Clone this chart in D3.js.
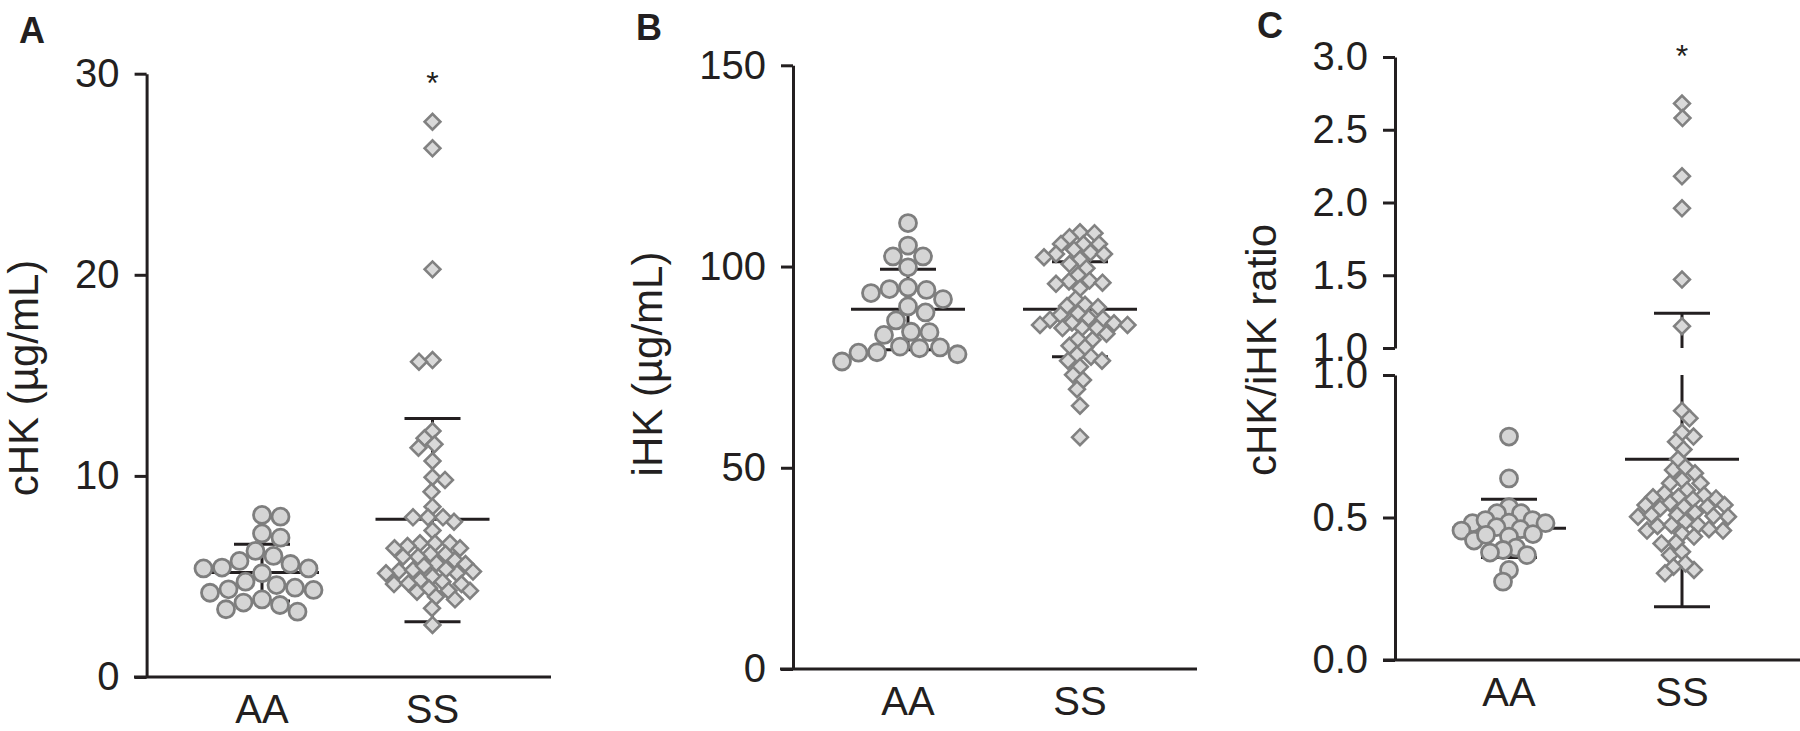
<!DOCTYPE html>
<html><head><meta charset="utf-8">
<script src="https://cdn.jsdelivr.net/npm/d3@7"></script>
<style>
body{margin:0;background:#fff}
svg{display:block}
text{font-family:"Liberation Sans",Arial,Helvetica,sans-serif;fill:#231f20}
</style>
</head><body>
<svg id="chart" width="1800" height="731"></svg>
<script>
// ---------------- data ----------------
const groups = ["AA", "SS"];

const cHK_AA = [7.97, 8.06, 6.93, 7.14, 6.27, 6.02, 5.77, 5.62, 5.40, 5.44, 5.16, 5.40, 4.74, 4.44, 4.36, 4.57, 4.33, 4.19, 3.86, 3.70, 3.58, 3.37, 3.25];
const cHK_SS = [27.61, 26.29, 20.27, 15.76, 15.68, 12.23, 11.87, 11.57, 11.40, 10.74, 9.93, 9.80, 9.21, 8.47, 7.72, 7.94, 7.94, 7.94, 7.28, 6.65, 6.65, 6.65, 6.51, 6.40, 6.40, 6.12, 5.82, 6.12, 5.98, 5.98, 5.62, 5.65, 5.24, 5.16, 5.27, 5.32, 5.52, 5.36, 5.16, 4.82, 4.99, 4.62, 4.62, 4.74, 4.66, 4.29, 4.24, 4.41, 4.29, 3.86, 3.99, 3.42, 2.59];
const cHK_mean = [5.2, 7.84];
const cHK_sdLow = [3.78, 2.75];
const cHK_sdHigh = [6.60, 12.86];
const cHK_ticks = [0, 10, 20, 30];

const iHK_AA = [110.8, 105.2, 102.5, 102.5, 99.8, 94.2, 94.4, 94.8, 93.4, 91.9, 90.1, 88.6, 86.6, 83.8, 83.7, 83.0, 78.6, 80.1, 78.7, 79.9, 79.7, 78.2, 76.4];
const iHK_SS = [108.5, 108.3, 107.3, 105.6, 105.6, 105.6, 104.2, 103.5, 103.1, 103.1, 102.3, 101.8, 100.6, 99.6, 97.9, 96.3, 95.7, 96.5, 96.0, 94.6, 91.9, 90.5, 90.2, 89.9, 87.2, 87.0, 84.8, 84.7, 85.9, 86.8, 85.5, 86.1, 88.0, 88.4, 85.5, 84.7, 83.3, 81.8, 80.3, 82.0, 79.9, 77.6, 78.1, 75.1, 76.6, 76.6, 73.1, 71.8, 69.5, 65.4, 57.6];
const iHK_mean = [89.4, 89.4];
const iHK_sdLow = [79.3, 77.6];
const iHK_sdHigh = [99.35, 101.2];
const iHK_ticks = [0, 50, 100, 150];

const ratio_AA = [0.784, 0.637, 0.536, 0.515, 0.515, 0.491, 0.480, 0.480, 0.482, 0.491, 0.466, 0.459, 0.454, 0.442, 0.433, 0.419, 0.394, 0.386, 0.368, 0.377, 0.316, 0.275, 0.439];
const ratio_SS = [2.68, 2.58, 2.18, 1.96, 1.47, 1.15, 0.875, 0.848, 0.784, 0.798, 0.766, 0.739, 0.704, 0.667, 0.676, 0.655, 0.632, 0.620, 0.596, 0.620, 0.573, 0.585, 0.567, 0.579, 0.571, 0.564, 0.550, 0.532, 0.538, 0.544, 0.538, 0.544, 0.503, 0.517, 0.509, 0.503, 0.509, 0.485, 0.505, 0.454, 0.470, 0.474, 0.454, 0.474, 0.444, 0.459, 0.412, 0.433, 0.409, 0.368, 0.380, 0.316, 0.339, 0.327, 0.304];
const ratio_mean = [0.462, 0.704];
const ratio_sdLow = [0.360, 0.187];
const ratio_sdHigh = [0.564, 1.238];
const ratio_ticksLow = [0, 0.5, 1.0];
const ratio_ticksHigh = [1.0, 1.5, 2.0, 2.5, 3.0];

const panelLetters = ["A", "B", "C"];
const yTitles = ["cHK (\u00b5g/mL)", "iHK (\u00b5g/mL)", "cHK/iHK ratio"];
const signif = [["", "*"], ["", ""], ["", "*"]];

// ---------------- style ----------------
const INK = "#231f20";
const CIRC_FILL = "#d5d5d5", CIRC_STROKE = "#7e7e7e";
const DIA_FILL = "#d9d9d9", DIA_STROKE = "#818181";
const R = 8.5, DIA_SIZE = 125;

const svg = d3.select("#chart");

function swarm(values, yfn, cx, shape, gap) {
  const pts = values.map((v, i) => ({v, i, y: yfn(v), dx: 0}));
  const order = pts.slice().sort((a, b) => a.y - b.y);
  const placed = [];
  const hit = (dx, y, q) => {
    const ax = Math.abs(dx - q.dx), ay = Math.abs(y - q.y);
    if (shape === "circle") return ax * ax + ay * ay < gap * gap;
    return ax + ay < gap;
  };
  order.forEach((p, k) => {
    for (let s = 0; s < 300; s += 0.5) {
      const cands = s === 0 ? [0] : (k % 2 ? [s, -s] : [-s, s]);
      let ok = null;
      for (const dx of cands) {
        if (placed.every(q => !hit(dx, p.y, q))) { ok = dx; break; }
      }
      if (ok !== null) { p.dx = ok; break; }
    }
    placed.push(p);
  });
  pts.forEach(p => p.x = cx + p.dx);
  return pts;
}

function drawPoints(g, pts, shape) {
  if (shape === "circle") {
    g.selectAll(null).data(pts).join("circle")
      .attr("cx", d => d.x).attr("cy", d => d.y).attr("r", R)
      .attr("fill", CIRC_FILL).attr("stroke", CIRC_STROKE).attr("stroke-width", 2.8);
  } else {
    const p = d3.symbol().type(d3.symbolSquare).size(DIA_SIZE)();
    g.selectAll(null).data(pts).join("path")
      .attr("d", p)
      .attr("transform", d => `translate(${d.x},${d.y}) rotate(45)`)
      .attr("fill", DIA_FILL).attr("stroke", DIA_STROKE).attr("stroke-width", 2.6);
  }
}

function hline(g, x1, x2, y) {
  g.append("line").attr("x1", x1).attr("x2", x2).attr("y1", y).attr("y2", y)
    .attr("stroke", INK).attr("stroke-width", 3);
}
function vline(g, x, y1, y2) {
  g.append("line").attr("x1", x).attr("x2", x).attr("y1", y1).attr("y2", y2)
    .attr("stroke", INK).attr("stroke-width", 3);
}

function styleAxis(ax) {
  ax.selectAll("path.domain").attr("stroke", INK).attr("stroke-width", 3);
  ax.selectAll(".tick line").attr("stroke", INK).attr("stroke-width", 3);
  ax.selectAll(".tick text").attr("font-size", 40).attr("fill", INK)
    .style("font-family", '"Liberation Sans", Arial, sans-serif');
}

const layout = [
  {axisX: 146.6, xEnd: 551, cols: [262, 432.5], letter: [19, 43], title: [38, 378], x0: 134, gapC: 18.5, gapD: 15},
  {axisX: 793, xEnd: 1197, cols: [908, 1080], letter: [636, 40], title: [662, 364], x0: 780, gapC: 18.5, gapD: 15},
  {axisX: 1395, xEnd: 1800, cols: [1509, 1682], letter: [1257, 38], title: [1276, 350], x0: 1383, gapC: 13, gapD: 15}
];

const panelData = [
  {AA: cHK_AA, SS: cHK_SS, mean: cHK_mean, lo: cHK_sdLow, hi: cHK_sdHigh},
  {AA: iHK_AA, SS: iHK_SS, mean: iHK_mean, lo: iHK_sdLow, hi: iHK_sdHigh},
  {AA: ratio_AA, SS: ratio_SS, mean: ratio_mean, lo: ratio_sdLow, hi: ratio_sdHigh}
];

const yA = d3.scaleLinear().domain([0, 30]).range([677, 73.7]);
const yB = d3.scaleLinear().domain([0, 150]).range([669, 65.3]);
const yCLow = d3.scaleLinear().domain([0, 1]).range([660, 375]);
const yCHigh = d3.scaleLinear().domain([1, 3]).range([348, 57]);
const yC = v => v <= 1 ? yCLow(v) : yCHigh(v);
const yFns = [yA, yB, yC];
const baseY = [677, 669, 660];

panelData.forEach((pd, pi) => {
  const L = layout[pi];
  const g = svg.append("g");
  const yf = yFns[pi];
  const x = d3.scalePoint().domain(groups).range(L.cols);

  if (pi < 2) {
    const ax = g.append("g").attr("transform", `translate(${L.axisX},0)`)
      .call(d3.axisLeft(yf).tickValues(pi === 0 ? cHK_ticks : iHK_ticks)
        .tickSize(12).tickSizeOuter(0).tickPadding(15).tickFormat(d3.format("d")));
    styleAxis(ax);
  } else {
    const axL = g.append("g").attr("transform", `translate(${L.axisX},0)`)
      .call(d3.axisLeft(yCLow).tickValues(ratio_ticksLow).tickSize(12).tickSizeOuter(0)
        .tickPadding(15).tickFormat(d3.format(".1f")));
    styleAxis(axL);
    const axH = g.append("g").attr("transform", `translate(${L.axisX},0)`)
      .call(d3.axisLeft(yCHigh).tickValues(ratio_ticksHigh).tickSize(12).tickSizeOuter(0)
        .tickPadding(15).tickFormat(d3.format(".1f")));
    styleAxis(axH);
  }

  hline(g, L.x0, L.xEnd, baseY[pi]);
  g.selectAll(null).data(groups).join("text")
    .attr("x", d => x(d)).attr("y", baseY[pi] + 46)
    .attr("text-anchor", "middle").attr("font-size", 40).text(d => d);

  g.append("text")
    .attr("transform", `translate(${L.title[0]},${L.title[1]}) rotate(-90)`)
    .attr("text-anchor", "middle").attr("font-size", 42).text(yTitles[pi]);

  g.append("text").attr("x", L.letter[0]).attr("y", L.letter[1])
    .attr("font-size", 36).attr("font-weight", "bold").text(panelLetters[pi]);

  const eb = g.append("g");
  groups.forEach((grp, gi) => {
    const cx = x(grp);
    const lo = pd.lo[gi], hi = pd.hi[gi];
    if (pi < 2) {
      vline(eb, cx, yf(lo), yf(hi));
    } else {
      vline(eb, cx, yCLow(lo), yCLow(Math.min(hi, 1)));
      if (hi > 1) vline(eb, cx, yCHigh(1), yCHigh(hi));
    }
    hline(eb, cx - 28, cx + 28, yf(lo));
    hline(eb, cx - 28, cx + 28, yf(hi));
    hline(eb, cx - 57, cx + 57, yf(pd.mean[gi]));
  });

  const ptsAA = swarm(pd.AA, yf, x("AA"), "circle", L.gapC);
  const ptsSS = swarm(pd.SS, yf, x("SS"), "diamond", L.gapD);
  drawPoints(g.append("g"), ptsAA, "circle");
  drawPoints(g.append("g"), ptsSS, "diamond");

  groups.forEach((grp, gi) => {
    if (signif[pi][gi]) {
      g.append("text").attr("x", x(grp)).attr("y", pi === 0 ? 94 : 67)
        .attr("text-anchor", "middle").attr("font-size", 32).text(signif[pi][gi]);
    }
  });
});
</script>
</body></html>
